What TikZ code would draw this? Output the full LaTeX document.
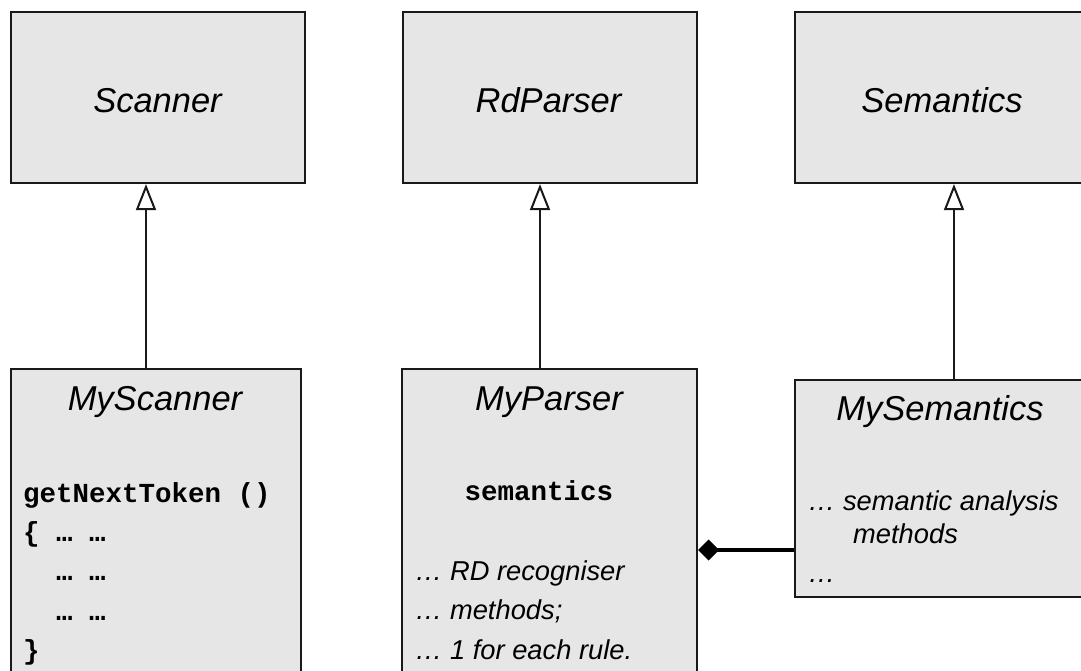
\documentclass[tikz,border=0pt]{standalone}
\usepackage{fontspec}
\setmainfont{Liberation Sans}
\setmonofont{Liberation Mono}
\usepackage{tikz}
\usetikzlibrary{positioning,arrows.meta}
\definecolor{classfill}{HTML}{E6E6E6}
\newcommand{\titlefont}{\fontsize{34.5}{40}\selectfont\itshape}
\newcommand{\codefont}{\fontsize{27.5}{39}\selectfont\ttfamily\bfseries}
\newcommand{\notefont}{\fontsize{27.3}{39}\selectfont\itshape}

\begin{document}
\begin{tikzpicture}[
  x=1pt, y=-1pt,
  cls/.style={draw=black!90, fill=classfill, line width=2.2pt, minimum width=294pt, inner sep=0pt},
  title/.style={font=\titlefont, inner sep=0pt, anchor=base},
  code/.style={font=\codefont, inner sep=0pt, anchor=base west},
  note/.style={font=\notefont, inner sep=0pt, anchor=base west},
  inherit/.style={-{Triangle[open, length=26pt, width=20pt]}, line width=2pt, black!90},
  compose/.style={-{Diamond[length=21pt, width=21pt]}, line width=4.5pt, black}
]
\clip (0,0) rectangle (1081,670);
\fill[white] (0,0) rectangle (1081,670);

% base classes
\node[cls, minimum height=171pt] (scanner)   at (158,97.5) {};
\node[cls, minimum height=171pt] (rdparser)  at (550,97.5) {};
\node[cls, minimum height=171pt] (semantics) at (942,97.5) {};
\node[title] (scannerT)   at (157.5,112) {Scanner};
\node[title] (rdparserT)  at (548.5,112) {RdParser};
\node[title] (semanticsT) at (942,112)   {Semantics};

% derived classes
\node[cls, minimum width=290pt, minimum height=330pt] (myscanner) at (156,534) {};
\node[cls, minimum width=295pt, minimum height=330pt] (myparser)  at (549.5,534) {};
\node[cls, minimum height=217pt] (mysemantics) at (942,488.5) {};
\node[title] (myscannerT)   at (155,410) {MyScanner};
\node[title] (myparserT)    at (549,410) {MyParser};
\node[title] (mysemanticsT) at (940,420) {MySemantics};

% MyScanner body
\node[code] (tok)  at (23,502)   {getNextToken ()};
\node[code] (tok1) at (23,541)   {\{ … …};
\node[code] (tok2) at (23,580.5) {\phantom{\{ }… …};
\node[code] (tok3) at (23,620)   {\phantom{\{ }… …};
\node[code] (tok4) at (23,659)   {\}};

% MyParser body
\node[code, anchor=base] (field) at (539,500) {semantics};
\node[note] (rd1) at (415,580) {… RD recogniser};
\node[note] (rd2) at (415,619) {… methods;};
\node[note] (rd3) at (415,659) {… 1 for each rule.};

% MySemantics body
\node[note] (sem1) at (808,510) {… semantic analysis};
\node[note] (sem2) at (853,543) {methods};
\node[note] (sem3) at (808,582) {…};

% generalisation
\draw[inherit] ([xshift=-10pt]myscanner.north) -- ([xshift=-10pt]myscanner.north |- scanner.south);
\draw[inherit] ([xshift=-9.5pt]myparser.north) -- ([xshift=-9.5pt]myparser.north |- rdparser.south);
\draw[inherit] ([xshift=12pt]mysemantics.north) -- ([xshift=12pt]mysemantics.north |- semantics.south);

% composition
\draw[compose] ([yshift=-61.5pt]mysemantics.west) -- ([yshift=-61.5pt]mysemantics.west -| myparser.east);
\end{tikzpicture}
\end{document}
